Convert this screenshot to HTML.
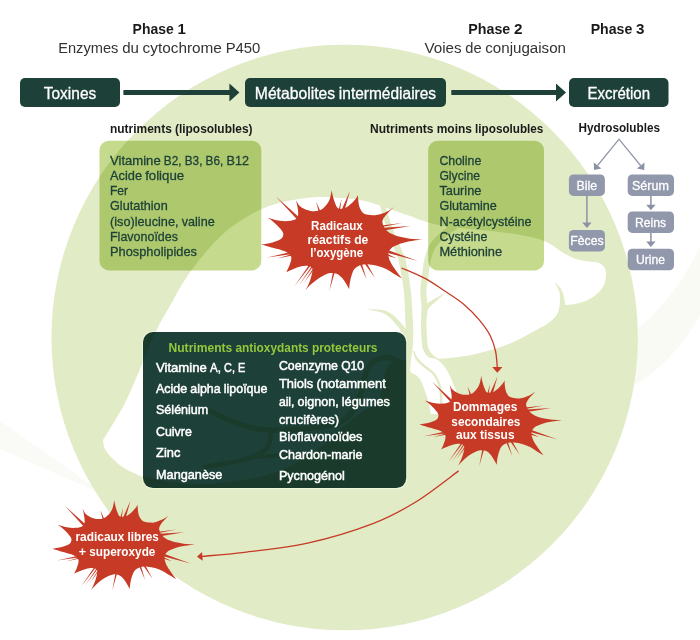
<!DOCTYPE html>
<html lang="fr">
<head>
<meta charset="utf-8">
<title>Détoxification hépatique</title>
<style>
html,body{margin:0;padding:0;background:#fff;}
body{width:700px;height:640px;overflow:hidden;font-family:"Liberation Sans",sans-serif;}
svg{display:block;}
text.m{stroke:#1d4038;stroke-width:.3px;}
text.w{stroke:#fff;stroke-width:.3px;}
text.w2{stroke:#fff;stroke-width:.5px;}
</style>
</head>
<body>
<svg width="700" height="640" viewBox="0 0 700 640" font-family="'Liberation Sans', sans-serif">
<path d="M636 330 C662 310 684 280 700 247 L700 315 C684 345 660 370 635 385 Z" fill="#f9faf3"/>
<path d="M0 421 L94 487 L92 489.5 L0 449 Z" fill="#fafbf6"/>
<ellipse cx="344.65" cy="337.5" rx="293.2" ry="292.8" fill="#e1ebc5"/>
<path d="M103 440C104.17 438.13 106.33 434.97 110 428.8C113.67 422.63 120.07 412.8 125 403C129.93 393.2 134.55 381.75 139.6 370C144.65 358.25 149.8 343.96 155.3 332.5C160.8 321.04 168.32 309 172.6 301.25C176.88 293.5 177.58 291.52 181 286C184.42 280.48 188.58 274.2 193.1 268.1C197.62 262 202.47 255.65 208.1 249.4C213.73 243.15 220.65 235.92 226.9 230.6C233.15 225.28 239.82 221.1 245.6 217.5C251.38 213.9 256.28 211.35 261.6 209C266.92 206.65 271.1 205.11 277.5 203.4C283.9 201.69 293.75 199.78 300 198.75C306.25 197.72 310 197.44 315 197.2C320 196.96 325 197.12 330 197.3C335 197.48 339.95 197.85 345 198.3C350.05 198.75 355.13 199.02 360.3 200C365.47 200.98 370.78 202.58 376 204.2C381.22 205.82 385.88 207.73 391.6 209.7C397.32 211.67 404.18 213.85 410.3 216C416.42 218.15 421.68 220.77 428.3 222.6C434.92 224.43 441.38 225.77 450 227C458.62 228.23 470 228.95 480 230C490 231.05 501.33 232.08 510 233.3C518.67 234.52 526.33 236.02 532 237.3C537.67 238.58 540.43 239.55 544 241C547.57 242.45 550 243.92 553.4 246C556.8 248.08 560.47 251.28 564.4 253.5C568.33 255.72 572.83 257.97 577 259.3C581.17 260.63 585.77 260.92 589.4 261.5C593.02 262.08 596.28 261.85 598.75 262.8C601.22 263.75 602.99 265.43 604.2 267.2C605.41 268.97 606 270.53 606 273.4C606 276.27 605.67 281.01 604.2 284.4C602.73 287.79 600.19 291.02 597.2 293.75C594.21 296.48 589.9 299.11 586.25 300.8C582.6 302.49 578.81 303.2 575.3 303.9C571.79 304.6 566.88 304.82 565.2 305C564.93 303.38 564.38 298.08 563.6 295.3C562.82 292.52 561.98 290.52 560.5 288.3C559.02 286.08 555.67 283.05 554.7 282C555.4 283.43 558.02 287.87 558.9 290.6C559.78 293.33 560 295.27 560 298.4C560 301.53 559.73 306.27 558.9 309.4C558.07 312.53 557.22 314.6 555 317.2C552.78 319.8 548.27 323.13 545.6 325C542.93 326.87 544 325.73 539 328.4C534 331.07 522.1 337.87 515.6 341C509.1 344.13 507.43 344.87 500 347.2C492.57 349.53 481 353.07 471 355C461 356.93 446.83 358.33 440 358.75C433.17 359.17 434.5 358.29 430 357.5C425.5 356.71 417 353.58 413 354C409 354.42 409.5 358.58 406 360C402.5 361.42 395.42 360.5 392 362.5C388.58 364.5 387.17 367.75 385.5 372C383.83 376.25 383.5 382.75 382 388C380.5 393.25 379.5 399.75 376.5 403.5C373.5 407.25 369.25 406.92 364 410.5C358.75 414.08 354 417.58 345 425C336 432.42 322.5 446.83 310 455C297.5 463.17 285 469.33 270 474C255 478.67 235 481.5 220 483C205 484.5 192.7 484.07 180 483C167.3 481.93 151.13 478.1 143.8 476.6C136.47 475.1 139.8 475.77 136 474C132.2 472.23 126 469.83 121 466C116 462.17 109 455.33 106 451C103 446.67 103.5 441.83 103 440Z" fill="#fff"/>
<path d="M380.1 205.7C380.65 207.72 381.86 212.77 383.38 217.83C384.89 222.89 387.06 230.07 389.19 236.05C391.32 242.02 394.52 249.23 396.17 253.68C397.82 258.12 397.8 256.44 399.07 262.72C400.35 269.01 402.76 281.39 403.82 291.39C404.88 301.38 405.07 314.57 405.45 322.68C405.83 330.78 405.98 335.13 406.1 340C406.22 344.87 406.2 348.06 406.2 351.87C406.2 355.68 406.14 359.36 406.1 362.86C406.07 366.36 406.02 371.21 406 372.88L410 373.12C410.18 371.46 410.73 366.64 411.1 363.14C411.46 359.64 411.86 355.99 412.2 352.13C412.53 348.27 412.98 344.97 413.1 340C413.22 335.03 413.33 330.56 412.95 322.32C412.56 314.09 411.95 300.79 410.78 290.61C409.61 280.44 407.35 267.83 405.93 261.28C404.5 254.73 404.08 255.88 402.23 251.32C400.38 246.77 397.08 239.81 394.81 233.95C392.54 228.1 390.27 221.11 388.62 216.17C386.97 211.23 385.52 206.28 384.9 204.3Z" fill="#e1ebc5"/>
<path d="M452.94 223.17C451.1 224.56 445.49 228.36 441.88 231.53C438.28 234.7 434.13 237.92 431.3 242.2C428.46 246.47 426.49 250.96 424.85 257.19C423.22 263.41 422.24 273.91 421.48 279.54C420.72 285.17 420.3 286.4 420.3 290.98C420.3 295.56 421.39 301.79 421.5 307.04C421.61 312.29 420.94 317.29 420.95 322.48C420.96 327.68 421.18 333.64 421.56 338.22C421.94 342.79 421.93 346.59 423.21 349.94C424.5 353.28 426.96 356.16 429.25 358.28C431.53 360.41 435.64 361.95 436.92 362.68L439.08 359.32C438.03 358.55 434.54 356.59 432.75 354.72C430.97 352.84 429.34 350.89 428.39 348.06C427.43 345.24 427.36 342.04 427.04 337.78C426.72 333.53 426.37 327.65 426.45 322.52C426.53 317.38 427.52 312.21 427.5 306.96C427.47 301.71 426.23 295.44 426.3 291.02C426.37 286.6 427.11 285.83 427.92 280.46C428.73 275.09 429.68 264.59 431.15 258.81C432.61 253.04 434.21 249.53 436.7 245.8C439.2 242.08 442.72 239.3 446.12 236.47C449.51 233.64 455.23 230.1 457.06 228.83Z" fill="#e1ebc5"/>
<path d="M426.77 310.77C427.67 309.7 430.26 306.27 432.16 304.38C434.05 302.48 436.05 301.21 438.13 299.4C440.22 297.59 443.6 294.5 444.69 293.52L444.51 293.28C443.24 294 439.31 296.21 436.87 297.6C434.42 298.99 432.11 300.02 429.84 301.62C427.57 303.23 424.33 306.3 423.23 307.23Z" fill="#e1ebc5"/>
<path d="M368.39 309.75C369.64 309.96 373.38 310.42 375.89 310.99C378.4 311.57 381.15 312.1 383.46 313.2C385.77 314.3 387.79 315.85 389.77 317.57C391.74 319.3 393.61 321.58 395.3 323.55C397 325.53 398.43 327.13 399.93 329.4C401.43 331.68 403.59 335.92 404.32 337.23L408.68 334.77C407.91 333.41 405.73 328.98 404.07 326.6C402.4 324.21 400.67 322.47 398.7 320.45C396.72 318.42 394.59 316.1 392.23 314.43C389.88 312.75 387.23 311.24 384.54 310.4C381.85 309.56 378.8 309.57 376.11 309.41C373.42 309.25 369.7 309.44 368.41 309.45Z" fill="#e1ebc5"/>
<path d="M413.3 350C413 351 411.97 353.5 411.5 356C411.03 358.5 410.65 362.33 410.5 365C410.35 367.67 409.68 370.33 410.6 372C411.52 373.67 414.27 373.5 416 375C417.73 376.5 419.58 378.5 421 381C422.42 383.5 423.33 386.83 424.5 390C425.67 393.17 426.92 396 428 400C429.08 404 430.5 411.67 431 414L440 414L462 404C460.67 401 456 390.67 454 386C452 381.33 451.67 379.33 450 376C448.33 372.67 446.23 368.8 444 366C441.77 363.2 439.27 360.7 436.6 359.2C433.93 357.7 430.27 358.53 428 357C425.73 355.47 423.83 351.17 423 350Z" fill="#fff"/>
<path d="M412.91 351.29C413.44 352.68 414.32 356.99 416.1 359.64C417.89 362.28 420.97 364.82 423.61 367.15C426.25 369.48 429.79 371.34 431.92 373.62C434.06 375.89 435.21 378.25 436.41 380.81C437.61 383.37 438.52 385.77 439.12 388.97C439.73 392.18 439.94 396.2 440.05 400.04C440.16 403.87 439.84 409.99 439.8 411.98L442.2 412.02C442.24 410.01 442.57 403.88 442.45 399.96C442.33 396.05 442.12 391.89 441.48 388.53C440.83 385.16 439.89 382.55 438.59 379.79C437.29 377.03 435.91 374.39 433.68 371.98C431.44 369.57 427.82 367.62 425.19 365.35C422.56 363.08 419.71 360.8 417.9 358.36C416.08 355.92 414.89 351.98 414.29 350.71Z" fill="#e1ebc5"/>
<rect x="20" y="78" width="100" height="29" rx="5" ry="5" fill="#1d4038"/>
<rect x="245" y="78" width="201" height="29" rx="5" ry="5" fill="#1d4038"/>
<rect x="569" y="78" width="99.5" height="29" rx="5" ry="5" fill="#1d4038"/>
<path d="M123.4 90H229.4V83.5L239.4 92.5L229.4 101.5V95H123.4Z" fill="#1d4038"/>
<path d="M451.3 90H556V83.5L566 92.5L556 101.5V95H451.3Z" fill="#1d4038"/>
<rect x="99.5" y="140.8" width="161.8" height="129.6" rx="9.5" ry="9.5" fill="#c5da8d" style="mix-blend-mode:multiply"/>
<rect x="428.2" y="140.8" width="115.8" height="129.6" rx="9.5" ry="9.5" fill="#c5da8d" style="mix-blend-mode:multiply"/>
<path d="M209.4 410.9C214.55 413.15 230.02 421.18 240.3 424.4C250.58 427.62 256.97 429.88 271.1 430.2C285.23 430.52 312.23 428.55 325.1 426.3C337.97 424.05 342.48 421.75 348.3 416.7C354.12 411.65 357.38 402.22 360 396C362.62 389.78 362.23 384.67 364 379.4C365.77 374.13 367.77 368 370.6 364.4C373.43 360.8 377.4 358.74 381 357.8C384.6 356.86 388.03 357.45 392.2 358.75C396.37 360.05 403.7 364.46 406 365.6" fill="none" stroke="#e1ebc5" stroke-width="5.5" stroke-linecap="round" stroke-linejoin="round"/>
<path d="M271.1 430.2C270.47 433.1 270.52 443.1 267.3 447.6C264.08 452.1 258.23 454.63 251.8 457.2C245.37 459.77 236.4 461.4 228.7 463C221 464.6 209.45 466.17 205.6 466.8" fill="none" stroke="#e1ebc5" stroke-width="5" stroke-linecap="round" stroke-linejoin="round"/>
<path d="M255.7 457.2C260.83 456.88 276.22 455 286.5 455.3C296.78 455.6 312.25 458.38 317.4 459" fill="none" stroke="#e1ebc5" stroke-width="4" stroke-linecap="round" stroke-linejoin="round"/>
<rect x="142.5" y="331.6" width="264.2" height="157" rx="10.5" ry="10.5" fill="none" stroke="#fffff0" stroke-opacity="0.5" stroke-width="1.2"/>
<rect x="143" y="332.1" width="263.2" height="156" rx="10" ry="10" fill="#1d4038" style="mix-blend-mode:multiply"/>
<rect x="568.9" y="174.5" width="36" height="21.4" rx="4.5" ry="4.5" fill="#9198ac"/>
<rect x="627.7" y="174.5" width="46.3" height="21.4" rx="4.5" ry="4.5" fill="#9198ac"/>
<rect x="568.9" y="229.9" width="36" height="21.5" rx="4.5" ry="4.5" fill="#9198ac"/>
<rect x="627.7" y="211.4" width="46.3" height="21.5" rx="4.5" ry="4.5" fill="#9198ac"/>
<rect x="627.7" y="248.8" width="46.3" height="21.4" rx="4.5" ry="4.5" fill="#9198ac"/>
<path d="M586.9 196V223.5" stroke="#8c92a6" stroke-width="1.5" fill="none"/><path d="M582.2 222.5H591.6L586.9 228Z" fill="#8c92a6"/>
<path d="M650.9 196V205.7" stroke="#8c92a6" stroke-width="1.5" fill="none"/><path d="M646.2 204.7H655.6L650.9 210.2Z" fill="#8c92a6"/>
<path d="M650.9 233V242.6" stroke="#8c92a6" stroke-width="1.5" fill="none"/><path d="M646.2 241.6H655.6L650.9 247.1Z" fill="#8c92a6"/>
<path d="M597.5 165.6L619 139.2L640.7 165.6" stroke="#8c92a6" stroke-width="1.3" fill="none" stroke-linejoin="miter"/>
<path d="M594 170L593.8 162.6L601.3 168.6Z" fill="#8c92a6"/>
<path d="M644.2 170L644.5 162.6L636.9 168.6Z" fill="#8c92a6"/>
<g fill="#c63a26"><path d="M114.2 500.2C114.42 501.21 114.98 504.3 115.5 506.25C116.02 508.2 116.53 510.17 117.3 511.9C118.07 513.62 118.62 515.9 120.1 516.6C121.58 517.3 124.23 516.88 126.2 516.1C128.17 515.32 130.25 513.38 131.9 511.9C133.55 510.42 135.17 508.45 136.1 507.2C137.03 505.95 137.27 504.87 137.5 504.4C137.58 505.48 137.68 508.87 138 510.9C138.32 512.93 138.55 514.88 139.4 516.6C140.25 518.33 141.23 520.25 143.1 521.25C144.97 522.25 148.42 522.49 150.6 522.6C152.78 522.71 154.07 522.48 156.2 521.9C158.33 521.32 161.25 520.2 163.4 519.1C165.55 518 168.15 515.93 169.1 515.3C168.32 516.08 165.82 518.43 164.4 520C162.98 521.57 161.47 523.13 160.6 524.7C159.73 526.27 158.88 527.53 159.2 529.4C159.52 531.27 160.7 534.03 162.5 535.9C164.3 537.77 166.72 539.35 170 540.6C173.28 541.85 178.1 542.77 182.2 543.4C186.3 544.03 192.53 544.23 194.6 544.4C192.53 544.71 185.83 545.48 182.2 546.25C178.57 547.02 175.3 548.06 172.8 549C170.3 549.94 168.6 550.57 167.2 551.9C165.8 553.23 164.57 554.92 164.4 557C164.23 559.08 165.12 561.92 166.2 564.4C167.28 566.88 169.18 569.4 170.9 571.9C172.62 574.4 175.57 578.15 176.5 579.4C175.42 578.77 172.33 577.02 170 575.6C167.67 574.18 165 572.15 162.5 570.9C160 569.65 157.5 568.8 155 568.1C152.5 567.4 150 566.85 147.5 566.7C145 566.55 142.18 566.5 140 567.2C137.82 567.9 135.8 569.18 134.4 570.9C133 572.62 132.3 575.32 131.6 577.5C130.9 579.68 130.52 582.1 130.2 584C129.88 585.9 129.78 588.08 129.7 588.9C129.28 588.15 128.25 586.09 127.2 584.4C126.15 582.71 124.81 580.32 123.4 578.75C121.99 577.18 120.47 575.71 118.75 575C117.03 574.29 114.97 574.27 113.1 574.5C111.22 574.73 109.37 575.53 107.5 576.4C105.63 577.27 103.78 578.37 101.9 579.7C100.03 581.03 98.05 582.72 96.25 584.4C94.45 586.08 91.96 588.9 91.1 589.8C91.42 589.21 92.3 587.78 93 586.25C93.7 584.72 94.6 582.79 95.3 580.6C96 578.41 96.97 574.97 97.2 573.1C97.43 571.23 97.48 570.25 96.7 569.4C95.92 568.55 94.3 568.08 92.5 568C90.7 567.92 88.08 568.36 85.9 568.9C83.72 569.44 81.35 570.47 79.4 571.25C77.45 572.03 75.07 573.21 74.2 573.6C74.6 572.73 75.9 570.2 76.6 568.4C77.3 566.6 78.17 564.37 78.4 562.8C78.63 561.23 78.78 560.25 78 559C77.22 557.75 75.08 556.15 73.75 555.3C72.42 554.45 71.92 554.48 70 553.9C68.08 553.32 65.17 552.65 62.2 551.8C59.23 550.95 53.87 549.3 52.2 548.8C53.83 548.5 59.1 547.84 62 547C64.9 546.16 68.03 545.08 69.6 543.75C71.17 542.42 71.57 540.56 71.4 539C71.23 537.44 70 536.11 68.6 534.4C67.2 532.69 64.8 530.35 63 528.75C61.2 527.15 58.67 525.46 57.8 524.8C59.29 525.22 63.7 526.8 66.75 527.3C69.8 527.8 73.44 528.03 76.1 527.8C78.76 527.57 81.28 526.83 82.7 525.9C84.12 524.97 84.37 523.92 84.6 522.2C84.83 520.48 84.42 517.78 84.1 515.6C83.78 513.42 82.93 510.18 82.7 509.1C83.17 509.88 84.25 512.43 85.5 513.75C86.75 515.07 88.33 516.14 90.2 517C92.08 517.86 94.57 518.67 96.75 518.9C98.93 519.13 101.51 518.95 103.3 518.4C105.09 517.85 106.17 516.85 107.5 515.6C108.83 514.35 110.32 512.46 111.25 510.9C112.18 509.34 112.61 508.03 113.1 506.25C113.59 504.47 114.02 501.21 114.2 500.2Z"/><path d="M64.9 505.8L83.3 525.91L85.1 524.09Z"/><path d="M100.5 510.5L102.84 519.76L104.36 519.24Z"/><path d="M130.5 500.6L123.09 517.57L125.51 518.43Z"/><path d="M123 508L120.37 517.87L121.63 518.13Z"/><path d="M176.6 529.6L158.39 531.69L158.61 533.11Z"/><path d="M184 532.2L159.85 533.73L160.15 536.27Z"/><path d="M190.6 563.6L163.86 553.86L163.14 556.14Z"/><path d="M172 561.3L164.26 557.53L163.74 558.87Z"/><path d="M145.2 580.3L140.83 565.7L139.17 566.3Z"/><path d="M152.6 578.9L145.35 565.54L143.85 566.46Z"/><path d="M112.2 590.5L116.98 573.78L115.42 573.42Z"/><path d="M81.25 586.25L96.25 567.07L94.95 566.13Z"/><path d="M85.6 585L98.32 567.97L97.28 567.23Z"/><path d="M89.5 583.5L100.03 569.36L98.97 568.64Z"/><path d="M57 560.4L79.67 557.35L79.33 555.45Z"/><path d="M66 561.5L79.66 558.62L79.34 557.38Z"/></g>
<g fill="#c63a26" transform="translate(367 -124.2)"><path d="M114.2 500.2C114.42 501.21 114.98 504.3 115.5 506.25C116.02 508.2 116.53 510.17 117.3 511.9C118.07 513.62 118.62 515.9 120.1 516.6C121.58 517.3 124.23 516.88 126.2 516.1C128.17 515.32 130.25 513.38 131.9 511.9C133.55 510.42 135.17 508.45 136.1 507.2C137.03 505.95 137.27 504.87 137.5 504.4C137.58 505.48 137.68 508.87 138 510.9C138.32 512.93 138.55 514.88 139.4 516.6C140.25 518.33 141.23 520.25 143.1 521.25C144.97 522.25 148.42 522.49 150.6 522.6C152.78 522.71 154.07 522.48 156.2 521.9C158.33 521.32 161.25 520.2 163.4 519.1C165.55 518 168.15 515.93 169.1 515.3C168.32 516.08 165.82 518.43 164.4 520C162.98 521.57 161.47 523.13 160.6 524.7C159.73 526.27 158.88 527.53 159.2 529.4C159.52 531.27 160.7 534.03 162.5 535.9C164.3 537.77 166.72 539.35 170 540.6C173.28 541.85 178.1 542.77 182.2 543.4C186.3 544.03 192.53 544.23 194.6 544.4C192.53 544.71 185.83 545.48 182.2 546.25C178.57 547.02 175.3 548.06 172.8 549C170.3 549.94 168.6 550.57 167.2 551.9C165.8 553.23 164.57 554.92 164.4 557C164.23 559.08 165.12 561.92 166.2 564.4C167.28 566.88 169.18 569.4 170.9 571.9C172.62 574.4 175.57 578.15 176.5 579.4C175.42 578.77 172.33 577.02 170 575.6C167.67 574.18 165 572.15 162.5 570.9C160 569.65 157.5 568.8 155 568.1C152.5 567.4 150 566.85 147.5 566.7C145 566.55 142.18 566.5 140 567.2C137.82 567.9 135.8 569.18 134.4 570.9C133 572.62 132.3 575.32 131.6 577.5C130.9 579.68 130.52 582.1 130.2 584C129.88 585.9 129.78 588.08 129.7 588.9C129.28 588.15 128.25 586.09 127.2 584.4C126.15 582.71 124.81 580.32 123.4 578.75C121.99 577.18 120.47 575.71 118.75 575C117.03 574.29 114.97 574.27 113.1 574.5C111.22 574.73 109.37 575.53 107.5 576.4C105.63 577.27 103.78 578.37 101.9 579.7C100.03 581.03 98.05 582.72 96.25 584.4C94.45 586.08 91.96 588.9 91.1 589.8C91.42 589.21 92.3 587.78 93 586.25C93.7 584.72 94.6 582.79 95.3 580.6C96 578.41 96.97 574.97 97.2 573.1C97.43 571.23 97.48 570.25 96.7 569.4C95.92 568.55 94.3 568.08 92.5 568C90.7 567.92 88.08 568.36 85.9 568.9C83.72 569.44 81.35 570.47 79.4 571.25C77.45 572.03 75.07 573.21 74.2 573.6C74.6 572.73 75.9 570.2 76.6 568.4C77.3 566.6 78.17 564.37 78.4 562.8C78.63 561.23 78.78 560.25 78 559C77.22 557.75 75.08 556.15 73.75 555.3C72.42 554.45 71.92 554.48 70 553.9C68.08 553.32 65.17 552.65 62.2 551.8C59.23 550.95 53.87 549.3 52.2 548.8C53.83 548.5 59.1 547.84 62 547C64.9 546.16 68.03 545.08 69.6 543.75C71.17 542.42 71.57 540.56 71.4 539C71.23 537.44 70 536.11 68.6 534.4C67.2 532.69 64.8 530.35 63 528.75C61.2 527.15 58.67 525.46 57.8 524.8C59.29 525.22 63.7 526.8 66.75 527.3C69.8 527.8 73.44 528.03 76.1 527.8C78.76 527.57 81.28 526.83 82.7 525.9C84.12 524.97 84.37 523.92 84.6 522.2C84.83 520.48 84.42 517.78 84.1 515.6C83.78 513.42 82.93 510.18 82.7 509.1C83.17 509.88 84.25 512.43 85.5 513.75C86.75 515.07 88.33 516.14 90.2 517C92.08 517.86 94.57 518.67 96.75 518.9C98.93 519.13 101.51 518.95 103.3 518.4C105.09 517.85 106.17 516.85 107.5 515.6C108.83 514.35 110.32 512.46 111.25 510.9C112.18 509.34 112.61 508.03 113.1 506.25C113.59 504.47 114.02 501.21 114.2 500.2Z"/><path d="M64.9 505.8L83.3 525.91L85.1 524.09Z"/><path d="M100.5 510.5L102.84 519.76L104.36 519.24Z"/><path d="M130.5 500.6L123.09 517.57L125.51 518.43Z"/><path d="M123 508L120.37 517.87L121.63 518.13Z"/><path d="M176.6 529.6L158.39 531.69L158.61 533.11Z"/><path d="M184 532.2L159.85 533.73L160.15 536.27Z"/><path d="M190.6 563.6L163.86 553.86L163.14 556.14Z"/><path d="M172 561.3L164.26 557.53L163.74 558.87Z"/><path d="M145.2 580.3L140.83 565.7L139.17 566.3Z"/><path d="M152.6 578.9L145.35 565.54L143.85 566.46Z"/><path d="M112.2 590.5L116.98 573.78L115.42 573.42Z"/><path d="M81.25 586.25L96.25 567.07L94.95 566.13Z"/><path d="M85.6 585L98.32 567.97L97.28 567.23Z"/><path d="M89.5 583.5L100.03 569.36L98.97 568.64Z"/><path d="M57 560.4L79.67 557.35L79.33 555.45Z"/><path d="M66 561.5L79.66 558.62L79.34 557.38Z"/></g>
<g fill="#c63a26" transform="translate(202.56 -366.9) scale(1.13 1.114)"><path d="M114.2 500.2C114.42 501.21 114.98 504.3 115.5 506.25C116.02 508.2 116.53 510.17 117.3 511.9C118.07 513.62 118.62 515.9 120.1 516.6C121.58 517.3 124.23 516.88 126.2 516.1C128.17 515.32 130.25 513.38 131.9 511.9C133.55 510.42 135.17 508.45 136.1 507.2C137.03 505.95 137.27 504.87 137.5 504.4C137.58 505.48 137.68 508.87 138 510.9C138.32 512.93 138.55 514.88 139.4 516.6C140.25 518.33 141.23 520.25 143.1 521.25C144.97 522.25 148.42 522.49 150.6 522.6C152.78 522.71 154.07 522.48 156.2 521.9C158.33 521.32 161.25 520.2 163.4 519.1C165.55 518 168.15 515.93 169.1 515.3C168.32 516.08 165.82 518.43 164.4 520C162.98 521.57 161.47 523.13 160.6 524.7C159.73 526.27 158.88 527.53 159.2 529.4C159.52 531.27 160.7 534.03 162.5 535.9C164.3 537.77 166.72 539.35 170 540.6C173.28 541.85 178.1 542.77 182.2 543.4C186.3 544.03 192.53 544.23 194.6 544.4C192.53 544.71 185.83 545.48 182.2 546.25C178.57 547.02 175.3 548.06 172.8 549C170.3 549.94 168.6 550.57 167.2 551.9C165.8 553.23 164.57 554.92 164.4 557C164.23 559.08 165.12 561.92 166.2 564.4C167.28 566.88 169.18 569.4 170.9 571.9C172.62 574.4 175.57 578.15 176.5 579.4C175.42 578.77 172.33 577.02 170 575.6C167.67 574.18 165 572.15 162.5 570.9C160 569.65 157.5 568.8 155 568.1C152.5 567.4 150 566.85 147.5 566.7C145 566.55 142.18 566.5 140 567.2C137.82 567.9 135.8 569.18 134.4 570.9C133 572.62 132.3 575.32 131.6 577.5C130.9 579.68 130.52 582.1 130.2 584C129.88 585.9 129.78 588.08 129.7 588.9C129.28 588.15 128.25 586.09 127.2 584.4C126.15 582.71 124.81 580.32 123.4 578.75C121.99 577.18 120.47 575.71 118.75 575C117.03 574.29 114.97 574.27 113.1 574.5C111.22 574.73 109.37 575.53 107.5 576.4C105.63 577.27 103.78 578.37 101.9 579.7C100.03 581.03 98.05 582.72 96.25 584.4C94.45 586.08 91.96 588.9 91.1 589.8C91.42 589.21 92.3 587.78 93 586.25C93.7 584.72 94.6 582.79 95.3 580.6C96 578.41 96.97 574.97 97.2 573.1C97.43 571.23 97.48 570.25 96.7 569.4C95.92 568.55 94.3 568.08 92.5 568C90.7 567.92 88.08 568.36 85.9 568.9C83.72 569.44 81.35 570.47 79.4 571.25C77.45 572.03 75.07 573.21 74.2 573.6C74.6 572.73 75.9 570.2 76.6 568.4C77.3 566.6 78.17 564.37 78.4 562.8C78.63 561.23 78.78 560.25 78 559C77.22 557.75 75.08 556.15 73.75 555.3C72.42 554.45 71.92 554.48 70 553.9C68.08 553.32 65.17 552.65 62.2 551.8C59.23 550.95 53.87 549.3 52.2 548.8C53.83 548.5 59.1 547.84 62 547C64.9 546.16 68.03 545.08 69.6 543.75C71.17 542.42 71.57 540.56 71.4 539C71.23 537.44 70 536.11 68.6 534.4C67.2 532.69 64.8 530.35 63 528.75C61.2 527.15 58.67 525.46 57.8 524.8C59.29 525.22 63.7 526.8 66.75 527.3C69.8 527.8 73.44 528.03 76.1 527.8C78.76 527.57 81.28 526.83 82.7 525.9C84.12 524.97 84.37 523.92 84.6 522.2C84.83 520.48 84.42 517.78 84.1 515.6C83.78 513.42 82.93 510.18 82.7 509.1C83.17 509.88 84.25 512.43 85.5 513.75C86.75 515.07 88.33 516.14 90.2 517C92.08 517.86 94.57 518.67 96.75 518.9C98.93 519.13 101.51 518.95 103.3 518.4C105.09 517.85 106.17 516.85 107.5 515.6C108.83 514.35 110.32 512.46 111.25 510.9C112.18 509.34 112.61 508.03 113.1 506.25C113.59 504.47 114.02 501.21 114.2 500.2Z"/><path d="M64.9 505.8L83.3 525.91L85.1 524.09Z"/><path d="M100.5 510.5L102.84 519.76L104.36 519.24Z"/><path d="M130.5 500.6L123.09 517.57L125.51 518.43Z"/><path d="M123 508L120.37 517.87L121.63 518.13Z"/><path d="M176.6 529.6L158.39 531.69L158.61 533.11Z"/><path d="M184 532.2L159.85 533.73L160.15 536.27Z"/><path d="M190.6 563.6L163.86 553.86L163.14 556.14Z"/><path d="M172 561.3L164.26 557.53L163.74 558.87Z"/><path d="M145.2 580.3L140.83 565.7L139.17 566.3Z"/><path d="M152.6 578.9L145.35 565.54L143.85 566.46Z"/><path d="M112.2 590.5L116.98 573.78L115.42 573.42Z"/><path d="M81.25 586.25L96.25 567.07L94.95 566.13Z"/><path d="M85.6 585L98.32 567.97L97.28 567.23Z"/><path d="M89.5 583.5L100.03 569.36L98.97 568.64Z"/><path d="M57 560.4L79.67 557.35L79.33 555.45Z"/><path d="M66 561.5L79.66 558.62L79.34 557.38Z"/></g>
<path d="M401.6 268C405.5 269.73 418.08 274.73 425 278.4C431.92 282.07 436.7 285.73 443.1 290C449.5 294.27 457.42 299.05 463.4 304C469.38 308.95 474.57 314.48 479 319.7C483.43 324.92 487.25 330.08 490 335.3C492.75 340.52 494.28 345.63 495.5 351C496.72 356.37 497 364.75 497.3 367.5" fill="none" stroke="#c63a26" stroke-width="1.3"/><path d="M492.2 367L497.3 372.8L502.4 367Z" fill="#c63a26"/>
<path d="M458.6 470.9C451.45 476.08 429.98 493.22 415.7 502C401.42 510.78 390.75 516.78 372.9 523.6C355.05 530.42 330.03 538.12 308.6 542.9C287.17 547.68 262.07 550.05 244.3 552.3C226.53 554.55 209.05 555.72 202 556.4" fill="none" stroke="#c63a26" stroke-width="1.3"/><path d="M202.02 551.88L197 556.8L202.74 560.86Z" fill="#c63a26"/>
<g>
<text y="33.8" font-size="15.45" font-weight="bold" fill="#1a1a1a"><tspan x="132.6" textLength="41.11" lengthAdjust="spacingAndGlyphs">Phase</tspan> <tspan x="177.39" textLength="8.33" lengthAdjust="spacingAndGlyphs">1</tspan></text>
<text y="53" font-size="15.45" fill="#333333"><tspan x="58.2" textLength="60.22" lengthAdjust="spacingAndGlyphs">Enzymes</tspan> <tspan x="122.14" textLength="16.75" lengthAdjust="spacingAndGlyphs">du</tspan> <tspan x="142.6" textLength="79.32" lengthAdjust="spacingAndGlyphs">cytochrome</tspan> <tspan x="225.64" textLength="34.77" lengthAdjust="spacingAndGlyphs">P450</tspan></text>
<text y="33.8" font-size="15.45" font-weight="bold" fill="#1a1a1a"><tspan x="468.3" textLength="41.97" lengthAdjust="spacingAndGlyphs">Phase</tspan> <tspan x="514.01" textLength="8.5" lengthAdjust="spacingAndGlyphs">2</tspan></text>
<text y="53" font-size="15.45" fill="#333333"><tspan x="424.4" textLength="37.17" lengthAdjust="spacingAndGlyphs">Voies</tspan> <tspan x="465.25" textLength="16.3" lengthAdjust="spacingAndGlyphs">de</tspan> <tspan x="485.24" textLength="80.76" lengthAdjust="spacingAndGlyphs">conjugaison</tspan></text>
<text y="33.8" font-size="15.45" font-weight="bold" fill="#1a1a1a"><tspan x="590.7" textLength="41.66" lengthAdjust="spacingAndGlyphs">Phase</tspan> <tspan x="636.08" textLength="8.44" lengthAdjust="spacingAndGlyphs">3</tspan></text>
<text y="98.5" font-size="16.48" fill="#fff" class="w"><tspan x="43.8" textLength="52.41" lengthAdjust="spacingAndGlyphs">Toxines</tspan></text>
<text y="98.5" font-size="16.48" fill="#fff" class="w"><tspan x="254.8" textLength="80.29" lengthAdjust="spacingAndGlyphs">Métabolites</tspan> <tspan x="338.87" textLength="97.24" lengthAdjust="spacingAndGlyphs">intermédiaires</tspan></text>
<text y="98.5" font-size="16.48" fill="#fff" class="w"><tspan x="587.4" textLength="62.62" lengthAdjust="spacingAndGlyphs">Excrétion</tspan></text>
<text y="132.9" font-size="13.08" font-weight="bold" fill="#1a1a1a"><tspan x="110" textLength="61.8" lengthAdjust="spacingAndGlyphs">nutriments</tspan> <tspan x="174.98" textLength="77.52" lengthAdjust="spacingAndGlyphs">(liposolubles)</tspan></text>
<text y="132.9" font-size="13.08" font-weight="bold" fill="#1a1a1a"><tspan x="370" textLength="63.53" lengthAdjust="spacingAndGlyphs">Nutriments</tspan> <tspan x="436.7" textLength="35.23" lengthAdjust="spacingAndGlyphs">moins</tspan> <tspan x="475.08" textLength="68.31" lengthAdjust="spacingAndGlyphs">liposolubles</tspan></text>
<text y="132.1" font-size="13.08" font-weight="bold" fill="#1a1a1a"><tspan x="578.5" textLength="81.51" lengthAdjust="spacingAndGlyphs">Hydrosolubles</tspan></text>
<text y="164.6" font-size="13.39" fill="#1d4038" class="m"><tspan x="110" textLength="50.67" lengthAdjust="spacingAndGlyphs">Vitamine</tspan> <tspan x="163.85" textLength="17.71" lengthAdjust="spacingAndGlyphs">B2,</tspan> <tspan x="184.73" textLength="17.71" lengthAdjust="spacingAndGlyphs">B3,</tspan> <tspan x="205.62" textLength="17.71" lengthAdjust="spacingAndGlyphs">B6,</tspan> <tspan x="226.5" textLength="22.39" lengthAdjust="spacingAndGlyphs">B12</tspan></text>
<text y="179.88" font-size="13.39" fill="#1d4038" class="m"><tspan x="110" textLength="32.03" lengthAdjust="spacingAndGlyphs">Acide</tspan> <tspan x="145.18" textLength="38.91" lengthAdjust="spacingAndGlyphs">folique</tspan></text>
<text y="195.16" font-size="13.39" fill="#1d4038" class="m"><tspan x="110" textLength="18" lengthAdjust="spacingAndGlyphs">Fer</tspan></text>
<text y="210.44" font-size="13.39" fill="#1d4038" class="m"><tspan x="110" textLength="57.68" lengthAdjust="spacingAndGlyphs">Glutathion</tspan></text>
<text y="225.72" font-size="13.39" fill="#1d4038" class="m"><tspan x="110" textLength="68.53" lengthAdjust="spacingAndGlyphs">(iso)leucine,</tspan> <tspan x="181.68" textLength="33.02" lengthAdjust="spacingAndGlyphs">valine</tspan></text>
<text y="241" font-size="13.39" fill="#1d4038" class="m"><tspan x="110" textLength="68.01" lengthAdjust="spacingAndGlyphs">Flavonoïdes</tspan></text>
<text y="256.28" font-size="13.39" fill="#1d4038" class="m"><tspan x="110" textLength="87.01" lengthAdjust="spacingAndGlyphs">Phospholipides</tspan></text>
<text y="164.6" font-size="13.39" fill="#1d4038" class="m"><tspan x="439.4" textLength="41.98" lengthAdjust="spacingAndGlyphs">Choline</tspan></text>
<text y="179.88" font-size="13.39" fill="#1d4038" class="m"><tspan x="439.4" textLength="40.59" lengthAdjust="spacingAndGlyphs">Glycine</tspan></text>
<text y="195.16" font-size="13.39" fill="#1d4038" class="m"><tspan x="439.4" textLength="42" lengthAdjust="spacingAndGlyphs">Taurine</tspan></text>
<text y="210.44" font-size="13.39" fill="#1d4038" class="m"><tspan x="439.4" textLength="57.5" lengthAdjust="spacingAndGlyphs">Glutamine</tspan></text>
<text y="225.72" font-size="13.39" fill="#1d4038" class="m"><tspan x="439.4" textLength="92.21" lengthAdjust="spacingAndGlyphs">N-acétylcystéine</tspan></text>
<text y="241" font-size="13.39" fill="#1d4038" class="m"><tspan x="439.4" textLength="47.91" lengthAdjust="spacingAndGlyphs">Cystéine</tspan></text>
<text y="256.28" font-size="13.39" fill="#1d4038" class="m"><tspan x="439.4" textLength="62.7" lengthAdjust="spacingAndGlyphs">Méthionine</tspan></text>
<text y="351.9" font-size="13.39" font-weight="bold" fill="#93c83d"><tspan x="168.5" textLength="63.81" lengthAdjust="spacingAndGlyphs">Nutriments</tspan> <tspan x="235.49" textLength="73.23" lengthAdjust="spacingAndGlyphs">antioxydants</tspan> <tspan x="311.89" textLength="65.6" lengthAdjust="spacingAndGlyphs">protecteurs</tspan></text>
<text y="372.1" font-size="13.39" fill="#fff" class="w2"><tspan x="156" textLength="50.76" lengthAdjust="spacingAndGlyphs">Vitamine</tspan> <tspan x="209.94" textLength="10.9" lengthAdjust="spacingAndGlyphs">A,</tspan> <tspan x="224.02" textLength="10.89" lengthAdjust="spacingAndGlyphs">C,</tspan> <tspan x="238.09" textLength="7.3" lengthAdjust="spacingAndGlyphs">E</tspan></text>
<text y="393.1" font-size="13.39" fill="#fff" class="w2"><tspan x="156" textLength="31.24" lengthAdjust="spacingAndGlyphs">Acide</tspan> <tspan x="190.32" textLength="30.37" lengthAdjust="spacingAndGlyphs">alpha</tspan> <tspan x="223.77" textLength="43.64" lengthAdjust="spacingAndGlyphs">lipoïque</tspan></text>
<text y="414.1" font-size="13.39" fill="#fff" class="w2"><tspan x="156" textLength="52.29" lengthAdjust="spacingAndGlyphs">Sélénium</tspan></text>
<text y="435.5" font-size="13.39" fill="#fff" class="w2"><tspan x="156" textLength="35.8" lengthAdjust="spacingAndGlyphs">Cuivre</tspan></text>
<text y="457" font-size="13.39" fill="#fff" class="w2"><tspan x="156" textLength="24.39" lengthAdjust="spacingAndGlyphs">Zinc</tspan></text>
<text y="478.5" font-size="13.39" fill="#fff" class="w2"><tspan x="156" textLength="66.42" lengthAdjust="spacingAndGlyphs">Manganèse</tspan></text>
<text y="370.4" font-size="13.39" fill="#fff" class="w2"><tspan x="278.9" textLength="59.1" lengthAdjust="spacingAndGlyphs">Coenzyme</tspan> <tspan x="341.13" textLength="22.87" lengthAdjust="spacingAndGlyphs">Q10</tspan></text>
<text y="387.8" font-size="13.39" fill="#fff" class="w2"><tspan x="278.9" textLength="34.41" lengthAdjust="spacingAndGlyphs">Thiols</tspan> <tspan x="316.45" textLength="69.56" lengthAdjust="spacingAndGlyphs">(notamment</tspan></text>
<text y="406.4" font-size="13.39" fill="#fff" class="w2"><tspan x="278.9" textLength="15.52" lengthAdjust="spacingAndGlyphs">ail,</tspan> <tspan x="297.56" textLength="41.09" lengthAdjust="spacingAndGlyphs">oignon,</tspan> <tspan x="341.78" textLength="48.21" lengthAdjust="spacingAndGlyphs">légumes</tspan></text>
<text y="423.9" font-size="13.39" fill="#fff" class="w2"><tspan x="278.9" textLength="60.1" lengthAdjust="spacingAndGlyphs">crucifères)</tspan></text>
<text y="441" font-size="13.39" fill="#fff" class="w2"><tspan x="278.9" textLength="83.6" lengthAdjust="spacingAndGlyphs">Bioflavonoïdes</tspan></text>
<text y="459" font-size="13.39" fill="#fff" class="w2"><tspan x="278.9" textLength="83.6" lengthAdjust="spacingAndGlyphs">Chardon-marie</tspan></text>
<text y="480" font-size="13.39" fill="#fff" class="w2"><tspan x="278.9" textLength="65.82" lengthAdjust="spacingAndGlyphs">Pycnogénol</tspan></text>
<text y="189.6" font-size="12.88" fill="#fff" class="w"><tspan x="576.6" textLength="20.6" lengthAdjust="spacingAndGlyphs">Bile</tspan></text>
<text y="189.6" font-size="12.88" fill="#fff" class="w"><tspan x="632" textLength="36.9" lengthAdjust="spacingAndGlyphs">Sérum</tspan></text>
<text y="245.2" font-size="12.88" fill="#fff" class="w"><tspan x="570.3" textLength="33.41" lengthAdjust="spacingAndGlyphs">Fèces</tspan></text>
<text y="226.9" font-size="12.88" fill="#fff" class="w"><tspan x="634.9" textLength="31.09" lengthAdjust="spacingAndGlyphs">Reins</tspan></text>
<text y="264.2" font-size="12.88" fill="#fff" class="w"><tspan x="636" textLength="29" lengthAdjust="spacingAndGlyphs">Urine</tspan></text>
<text y="229.9" font-size="12.36" font-weight="bold" fill="#fff"><tspan x="311.1" textLength="51.69" lengthAdjust="spacingAndGlyphs">Radicaux</tspan></text>
<text y="243.7" font-size="12.36" font-weight="bold" fill="#fff"><tspan x="307.5" textLength="43.48" lengthAdjust="spacingAndGlyphs">réactifs</tspan> <tspan x="354.17" textLength="14.12" lengthAdjust="spacingAndGlyphs">de</tspan></text>
<text y="257" font-size="12.36" font-weight="bold" fill="#fff"><tspan x="310.2" textLength="52.91" lengthAdjust="spacingAndGlyphs">l’oxygène</tspan></text>
<text y="411.3" font-size="12.36" font-weight="bold" fill="#fff"><tspan x="452.9" textLength="64.51" lengthAdjust="spacingAndGlyphs">Dommages</tspan></text>
<text y="425.5" font-size="12.36" font-weight="bold" fill="#fff"><tspan x="451.3" textLength="69.09" lengthAdjust="spacingAndGlyphs">secondaires</tspan></text>
<text y="439.4" font-size="12.36" font-weight="bold" fill="#fff"><tspan x="456.1" textLength="20.65" lengthAdjust="spacingAndGlyphs">aux</tspan> <tspan x="479.97" textLength="34.63" lengthAdjust="spacingAndGlyphs">tissus</tspan></text>
<text y="540.6" font-size="12.36" font-weight="bold" fill="#fff"><tspan x="75.5" textLength="48.89" lengthAdjust="spacingAndGlyphs">radicaux</tspan> <tspan x="127.57" textLength="31.24" lengthAdjust="spacingAndGlyphs">libres</tspan></text>
<text y="555.5" font-size="12.36" font-weight="bold" fill="#fff"><tspan x="78.8" textLength="7.31" lengthAdjust="spacingAndGlyphs">+</tspan> <tspan x="89.3" textLength="66.11" lengthAdjust="spacingAndGlyphs">superoxyde</tspan></text>
</g>
</svg>
</body>
</html>
